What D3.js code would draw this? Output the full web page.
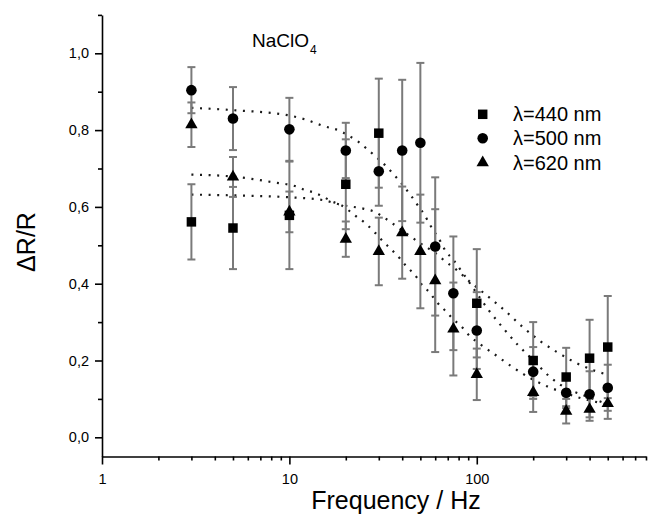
<!DOCTYPE html>
<html>
<head>
<meta charset="utf-8">
<script src="https://cdn.jsdelivr.net/npm/d3@7"></script>
<style>
  html, body { margin: 0; padding: 0; background: #fff; }
  svg { display: block; }
  text { font-family: "Liberation Sans", Arial, sans-serif; fill: #000; }
</style>
</head>
<body>
<svg id="chart" width="650" height="516"></svg>
<script>
// ---- data ----
const freq = [3, 5, 10, 20, 30, 40, 50, 60, 75, 100, 200, 300, 400, 500];

const val440 = [0.561, 0.545, 0.578, 0.659, 0.792, null, null, null, null, 0.349, 0.200, 0.157, 0.206, 0.235];
const err440 = [0.098, 0.107, 0.140, 0.117, 0.142, null, null, null, null, 0.141, 0.100, 0.076, 0.100, 0.133];

const val500 = [0.904, 0.830, 0.802, 0.747, 0.693, 0.747, 0.767, 0.497, 0.375, 0.278, 0.171, 0.116, 0.112, 0.129];
const err500 = [0.060, 0.082, 0.082, 0.072, 0.090, 0.184, 0.208, 0.180, 0.148, 0.100, 0.064, 0.040, 0.060, 0.060];

const val620 = [0.814, 0.678, 0.587, 0.516, 0.484, 0.533, 0.484, 0.408, 0.282, 0.164, 0.117, 0.068, 0.073, 0.088];
const err620 = [0.058, 0.052, 0.053, 0.046, 0.088, 0.120, 0.148, 0.186, 0.121, 0.067, 0.051, 0.032, 0.030, 0.040];

// dotted fit curves
const fit440F = [3, 5, 10, 15, 19, 25, 28.6, 31.6, 35.5, 44, 50, 60, 68, 78, 92, 114, 142, 177, 216, 270, 335, 417, 500];
const fit440V = [0.632, 0.630, 0.625, 0.618, 0.605, 0.595, 0.587, 0.574, 0.557, 0.524, 0.505, 0.480, 0.458, 0.436, 0.405, 0.368, 0.329, 0.286, 0.252, 0.221, 0.195, 0.175, 0.163];

const fit500F = [3, 5, 10, 12.1, 15.1, 18.8, 20.8, 23.3, 25.8, 28.6, 31.6, 34.6, 38.3, 41.8, 44.9, 49.1, 52.8, 56, 59.6, 64.2, 68, 75, 85, 100, 115, 138, 166, 201, 245, 299, 369, 500];
const fit500V = [0.858, 0.852, 0.838, 0.828, 0.811, 0.797, 0.785, 0.770, 0.752, 0.733, 0.714, 0.694, 0.670, 0.647, 0.627, 0.600, 0.578, 0.555, 0.534, 0.509, 0.486, 0.462, 0.425, 0.375, 0.333, 0.285, 0.240, 0.200, 0.158, 0.128, 0.110, 0.086];

const fit620F = [3, 5, 8.2, 10.9, 12.1, 13.6, 15.1, 16.9, 18.8, 22.9, 25.8, 28.6, 31.6, 35, 38.8, 42.3, 46.7, 50.8, 56, 61, 67.5, 74, 83, 91.6, 102.5, 127, 156, 193, 239, 297, 377, 500];
const fit620V = [0.684, 0.679, 0.664, 0.653, 0.644, 0.637, 0.627, 0.614, 0.605, 0.574, 0.555, 0.533, 0.510, 0.489, 0.466, 0.444, 0.423, 0.398, 0.377, 0.353, 0.331, 0.310, 0.288, 0.264, 0.245, 0.213, 0.182, 0.154, 0.132, 0.115, 0.099, 0.086];

const xMajorTicks = [1, 10, 100];
const xMinorTicks = [2,3,4,5,6,7,8,9,20,30,40,50,60,70,80,90,200,300,400,500,600,700,800];
const yMajorTicks = [0.0, 0.2, 0.4, 0.6, 0.8, 1.0];
const yMinorTicks = [0.1, 0.3, 0.5, 0.7, 0.9, 1.1];

const legendLabels = ["λ=440 nm", "λ=500 nm", "λ=620 nm"];
const titleText = "NaClO";
const titleSub = "4";
const xTitle = "Frequency / Hz";
const yTitle = "ΔR/R";

// ---- layout ----
const svg = d3.select("#chart");
const x = d3.scaleLog().domain([1, 800]).range([102, 646]);
const y = d3.scaleLinear().domain([-0.05, 1.1]).range([456.5, 14.9]);
const fmt = d => d.toFixed(1).replace(".", ",");

// axes
const gx = svg.append("g").attr("transform", `translate(0,${y(-0.05)})`);
gx.call(d3.axisBottom(x).tickValues(xMinorTicks).tickSize(4).tickSizeOuter(0).tickFormat(""));
gx.call(g => g.select(".domain").remove());
const gx2 = svg.append("g").attr("transform", `translate(0,${y(-0.05)})`);
gx2.call(d3.axisBottom(x).tickValues(xMajorTicks).tickSize(8).tickSizeOuter(0).tickPadding(9).tickFormat(d3.format("d")));

const gy = svg.append("g").attr("transform", `translate(${x(1)},0)`);
gy.call(d3.axisLeft(y).tickValues(yMinorTicks).tickSize(4).tickSizeOuter(0).tickFormat(""));
gy.call(g => g.select(".domain").remove());
const gy2 = svg.append("g").attr("transform", `translate(${x(1)},0)`);
gy2.call(d3.axisLeft(y).tickValues(yMajorTicks).tickSize(7).tickSizeOuter(0).tickPadding(6).tickFormat(fmt));

svg.selectAll(".domain, .tick line").attr("stroke", "#000").attr("stroke-width", 1.6);
svg.selectAll(".tick text").style("font-family", "'Liberation Sans', Arial, sans-serif").style("font-size", "14.5px").attr("fill", "#000");

// axis titles
svg.append("text").attr("x", 396).attr("y", 509).attr("text-anchor", "middle")
  .style("font-size", "25px").text(xTitle);
svg.append("text").attr("transform", "translate(35,242) rotate(-90)").attr("text-anchor", "middle")
  .style("font-size", "25px").text(yTitle);

// title
const t = svg.append("text").attr("x", 252).attr("y", 46.7).style("font-size", "19px");
t.append("tspan").text(titleText);
t.append("tspan").attr("dx", 1).attr("dy", 7).style("font-size", "12px").text(titleSub);

// fit curves
const line = d3.line().x(d => x(d[0])).y(d => y(d[1])).curve(d3.curveMonotoneX);
[[fit440F, fit440V], [fit500F, fit500V], [fit620F, fit620V]].forEach(([F, V]) => {
  svg.append("path").attr("d", line(F.map((f, i) => [f, V[i]])))
    .attr("fill", "none").attr("stroke", "#1a1a1a").attr("stroke-width", 2.2)
    .attr("stroke-dasharray", "2 6.6");
});

// series
const series = [
  { v: val440, e: err440, sym: d3.symbolSquare, size: 90 },
  { v: val500, e: err500, sym: d3.symbolCircle, size: 88 },
  { v: val620, e: err620, sym: d3.symbolTriangle, size: 66 }
];

// error bars
const eb = svg.append("g").attr("stroke", "#7a7a7a").attr("stroke-width", 2);
series.forEach(s => {
  freq.forEach((f, i) => {
    if (s.v[i] == null) return;
    const cx = x(f), y1 = y(s.v[i] + s.e[i]), y0 = y(s.v[i] - s.e[i]);
    eb.append("line").attr("x1", cx).attr("x2", cx).attr("y1", y1).attr("y2", y0);
    eb.append("line").attr("x1", cx - 4).attr("x2", cx + 4).attr("y1", y1).attr("y2", y1);
    eb.append("line").attr("x1", cx - 4).attr("x2", cx + 4).attr("y1", y0).attr("y2", y0);
  });
});

// markers
series.forEach(s => {
  const pts = freq.map((f, i) => [f, s.v[i]]).filter(d => d[1] != null);
  svg.append("g").selectAll("path").data(pts).join("path")
    .attr("transform", d => `translate(${x(d[0])},${y(d[1])})`)
    .attr("d", d3.symbol().type(s.sym).size(s.size)())
    .attr("fill", "#000");
});

// legend
const legY = [114.3, 138.3, 162.7];
series.forEach((s, i) => {
  svg.append("path").attr("transform", `translate(482.7,${legY[i]})`)
    .attr("d", d3.symbol().type(s.sym).size(s.size)()).attr("fill", "#000");
  svg.append("text").attr("x", 513).attr("y", legY[i] + 7).style("font-size", "20px").text(legendLabels[i]);
});
</script>
</body>
</html>
